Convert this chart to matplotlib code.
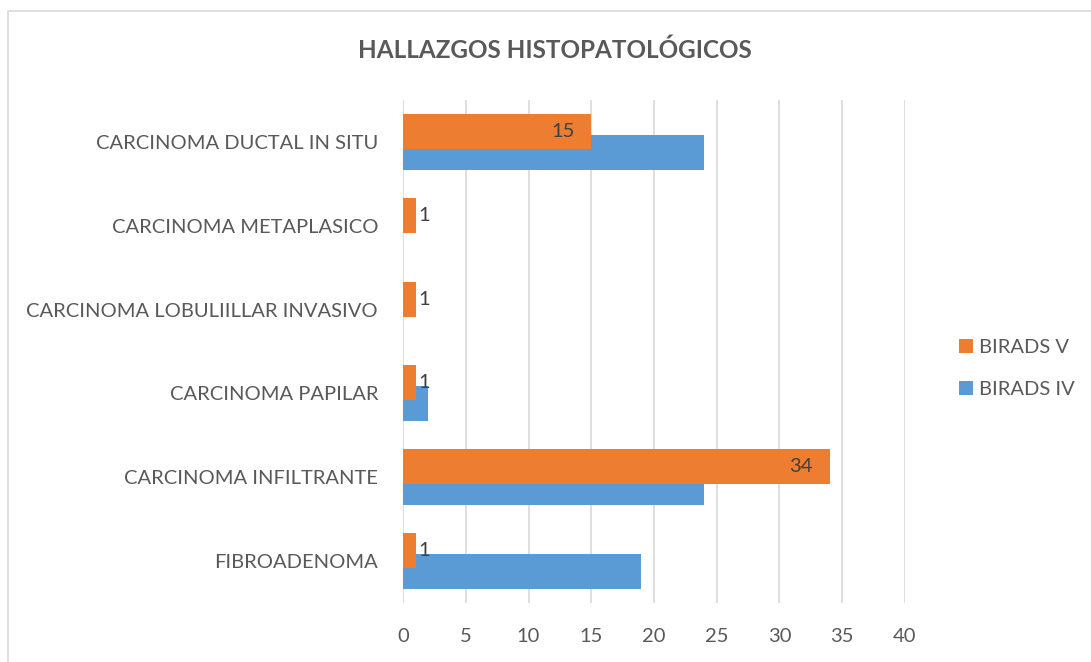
import matplotlib
matplotlib.use("Agg")
import matplotlib.pyplot as plt
from matplotlib.patches import Rectangle
import numpy as np

categories = ["FIBROADENOMA", "CARCINOMA INFILTRANTE", "CARCINOMA PAPILAR",
              "CARCINOMA LOBULIILLAR INVASIVO", "CARCINOMA METAPLASICO",
              "CARCINOMA DUCTAL IN SITU"]
birads_iv = [19, 24, 2, 0, 0, 24]
birads_v = [1, 34, 1, 1, 1, 15]
xticks = [0, 5, 10, 15, 20, 25, 30, 35, 40]

plt.rcParams['font.family'] = ['Lato', 'DejaVu Sans']
txt = '#595959'
fs = 14.5
fig = plt.figure(figsize=(10.91, 6.62), dpi=100)
fig.patches.append(Rectangle((8/1091, -0.1), 1.2, (662-11)/662 + 0.1, transform=fig.transFigure,
                             fill=False, edgecolor='#d9d9d9', linewidth=1.2))
ax = fig.add_axes([403/1091, (662-603)/662, 502/1091, 503/662])

y = np.arange(len(categories))
h = 0.417
off = 0.125
ax.barh(y - off, birads_iv, height=h, color='#5B9BD5', label='BIRADS IV', zorder=2)
ax.barh(y + off, birads_v, height=h, color='#ED7D31', label='BIRADS V', zorder=3)

for yi, v in zip(y, birads_v):
    if v >= 5:
        ax.text(v - 1.35, yi + off, str(v), ha='right', va='center', fontsize=fs, color='#404040', zorder=4)
    else:
        ax.text(v + 0.25, yi + off, str(v), ha='left', va='center', fontsize=fs, color='#404040', zorder=4)

ax.set_xlim(0, 40)
ax.set_ylim(-0.5, 5.5)
ax.set_xticks(xticks)
ax.set_yticks(y)
ax.set_yticklabels(categories)
ax.tick_params(axis='both', length=0, labelsize=fs, colors=txt)
ax.tick_params(axis='y', pad=18)
ax.tick_params(axis='x', pad=18)
ax.grid(axis='x', color='#d9d9d9', linewidth=1.2, zorder=0)
for s in ax.spines.values():
    s.set_visible(False)

fig.text(555/1091, 1 - 50/662, 'HALLAZGOS HISTOPATOLÓGICOS', ha='center', va='center',
         fontsize=17.5, fontweight='bold', color=txt)

handles, labels = ax.get_legend_handles_labels()
fig.legend(handles[::-1], labels[::-1], loc='center left', bbox_to_anchor=(959/1091, 1 - 368.5/662),
           frameon=False, fontsize=fs, labelcolor=txt, handlelength=0.7, handleheight=0.7,
           labelspacing=1.25, handletextpad=0.3, borderpad=0, borderaxespad=0)

fig.savefig('out.png', dpi=100)
